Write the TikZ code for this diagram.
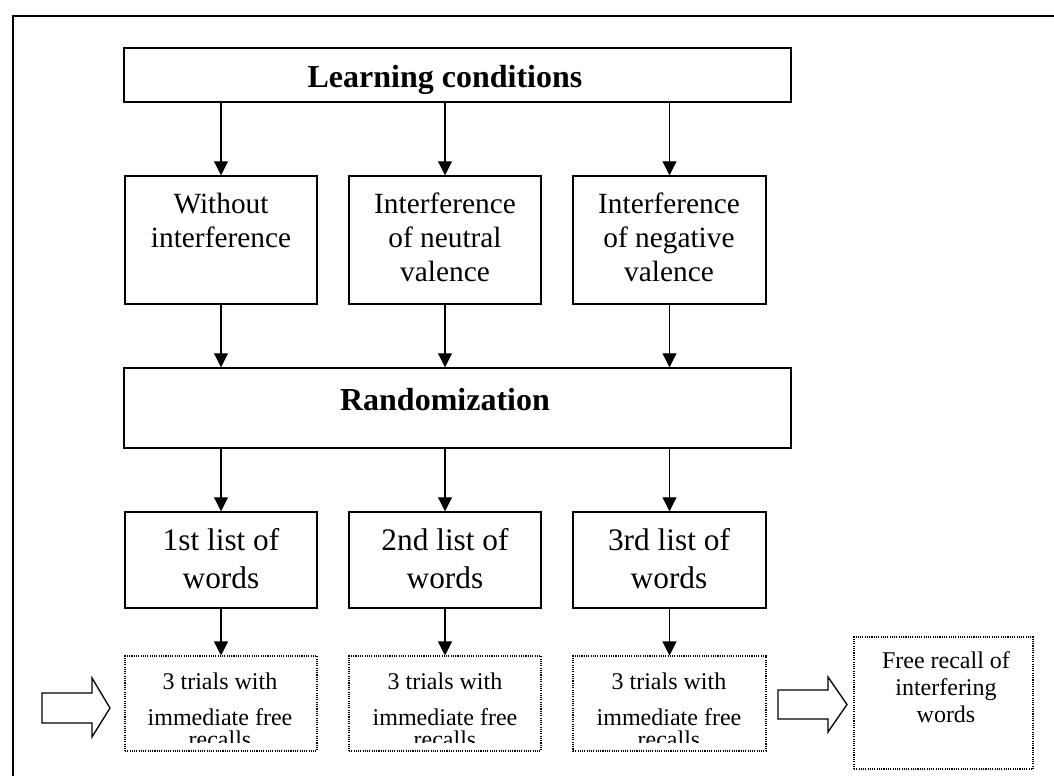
\documentclass[tikz,border=0pt]{standalone}
\usepackage{fontspec}
\setmainfont{Liberation Serif}
\usetikzlibrary{arrows.meta,fit}
\begin{document}
\begin{tikzpicture}[x=0.75pt,y=-0.75pt,
  box/.style={draw, line width=1.1pt, inner sep=0pt},
  dbox/.style={draw, line width=0.8pt, dash pattern=on 0.8pt off 0.9pt, inner sep=0pt},
  conn/.style={line width=0.8pt, -{Triangle[width=10.5pt,length=10.5pt]}},
  head/.style={font={\fontsize{24}{28}\selectfont\bfseries}, inner sep=0pt, anchor=base},
  midtext/.style={font={\fontsize{22}{25.5}\selectfont}, align=center, inner sep=0pt, anchor=base},
  listtext/.style={font={\fontsize{23.5}{28.5}\selectfont}, align=center, inner sep=0pt, anchor=base},
  trialtext/.style={font={\fontsize{18}{27}\selectfont}, align=center, inner sep=0pt, anchor=base},
  freetext/.style={font={\fontsize{18}{20}\selectfont}, align=center, inner sep=0pt, anchor=base},
  blockarrow/.style={draw, line width=1pt, line join=miter},
  frame/.style={line width=1.5pt}]
\useasboundingbox (0,0) rectangle (1054,776);
% outer frame (partially visible)
\draw[frame] (13,776) -- (13,16) -- (1054,16);

% boxes
\node[box, fit={(124,48) (791,102)}] (lc) {};
\node[box, fit={(125,176) (317,304)}] (b1) {};
\node[box, fit={(349,176) (541,304)}] (b2) {};
\node[box, fit={(573,176) (766,304)}] (b3) {};
\node[box, fit={(124,368) (791,448)}] (rnd) {};
\node[box, fit={(125,512) (317,608)}] (l1) {};
\node[box, fit={(349,512) (541,608)}] (l2) {};
\node[box, fit={(573,512) (766,608)}] (l3) {};
\node[dbox, fit={(125,656) (317,751)}] (d1) {};
\node[dbox, fit={(349,656) (541,751)}] (d2) {};
\node[dbox, fit={(573,656) (766,751)}] (d3) {};
\node[dbox, fit={(854,637) (1033,769)}] (fr) {};

% texts (anchor base = baseline of the last line)
\node[head] (lct) at (445,87) {Learning conditions};
\node[midtext] (t1) at (221,247) {Without\\interference};
\node[midtext] (t2) at (445,281) {Interference\\of neutral\\valence};
\node[midtext] (t3) at (669,281) {Interference\\of negative\\valence};
\node[head] (rndt) at (445,410) {Randomization};
\node[listtext] (lt1) at (221,588) {1st list of\\words};
\node[listtext] (lt2) at (445,588) {2nd list of\\words};
\node[listtext] (lt3) at (669,588) {3rd list of\\words};
\begin{scope}
  \clip (125,656) rectangle (317,742);
  \node[trialtext] (dt1) at (220,747) {3 trials with\\immediate free\\[-10.5pt]recalls};
\end{scope}
\begin{scope}
  \clip (349,656) rectangle (541,742);
  \node[trialtext] (dt2) at (445,747) {3 trials with\\immediate free\\[-10.5pt]recalls};
\end{scope}
\begin{scope}
  \clip (573,656) rectangle (766,742);
  \node[trialtext] (dt3) at (669,747) {3 trials with\\immediate free\\[-10.5pt]recalls};
\end{scope}
\node[freetext] (frt) at (946,722) {Free recall of\\interfering\\words};

% connectors
\foreach \b in {b1,b2,b3} \draw[conn] (lc.south -| \b.north) -- (\b.north);
\foreach \b in {b1,b2,b3} \draw[conn] (\b.south) -- (rnd.north -| \b.south);
\foreach \b in {l1,l2,l3} \draw[conn] (rnd.south -| \b.north) -- (\b.north);
\draw[conn] (l1.south) -- (d1.north);
\draw[conn] (l2.south) -- (d2.north);
\draw[conn] (l3.south) -- (d3.north);

% block arrows
\draw[blockarrow] (42,693) -- (92,693) -- (92,678) -- (110,708) -- (92,737) -- (92,723) -- (42,723) -- cycle;
\draw[blockarrow] (778,690) -- (828,690) -- (828,677) -- (847,704.5) -- (828,732) -- (828,719) -- (778,719) -- cycle;
\end{tikzpicture}
\end{document}
